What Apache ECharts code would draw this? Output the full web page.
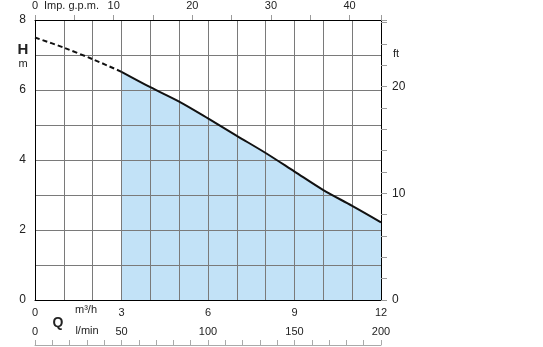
<!DOCTYPE html>
<html><head><meta charset="utf-8">
<script src="https://cdn.jsdelivr.net/npm/echarts@6/dist/echarts.min.js"></script>
<style>html,body{margin:0;padding:0;background:#fff}#c{width:543px;height:347px}</style>
</head><body><div id="c"></div>
<script>
// ---- data ----
const qDashed = [0, 1, 2, 3];
const hDashed = [7.5, 7.21, 6.88, 6.52];
const qSolid = [3, 4, 5, 6, 7, 8, 9, 10, 11, 12];
const hSolid = [6.52, 6.08, 5.67, 5.19, 4.69, 4.2, 3.67, 3.14, 2.69, 2.22];
const m3hLabels = [0, 3, 6, 9, 12];
const lminLabels = [0, 50, 100, 150, 200];
const gpmLabels = [0, 10, 20, 30, 40];
const hLabels = [0, 2, 4, 6, 8];
const ftLabels = [0, 10, 20];
const Q_MAX = 12, H_MAX = 8;
const GPM_PER_M3H = 3.66614, FT_PER_M = 3.28084, LMIN_PER_M3H = 1000 / 60;

const font = 'Liberation Sans, Arial, Helvetica, sans-serif';
const txt = '#222';
const gridCol = '#7a7a7a';
const tickCol = '#9a9a9a';

const dashedData = qDashed.map((q, i) => [q, hDashed[i]]);
const solidData = qSolid.map((q, i) => [q, hSolid[i]]);

const near = (v, list) => list.some(x => Math.abs(x - v) < 1e-6);

const chart = echarts.init(document.getElementById('c'), null, {renderer: 'canvas'});
chart.setOption({
  animation: false,
  backgroundColor: '#fff',
  grid: {left: 35, right: 162, top: 20, bottom: 47, containLabel: false},
  xAxis: [
    {
      type: 'value', position: 'bottom', min: 0, max: Q_MAX, interval: 1,
      axisLine: {show: true, onZero: false, lineStyle: {color: '#000', width: 1}},
      axisTick: {show: false},
      splitLine: {show: true, lineStyle: {color: gridCol, width: 1}},
      axisLabel: {
        margin: 7, fontSize: 11, color: txt, fontFamily: font,
        formatter: v => near(v, m3hLabels) ? String(v) : ''
      }
    },
    {
      type: 'value', position: 'bottom', offset: 45, min: 0, max: Q_MAX * LMIN_PER_M3H, interval: 10,
      axisLine: {show: true, onZero: false, lineStyle: {color: '#aaa', width: 1}},
      axisTick: {show: true, inside: true, length: 5, lineStyle: {color: '#aaa'}},
      splitLine: {show: false},
      axisLabel: {
        inside: true, margin: 8, fontSize: 11, color: txt, fontFamily: font,
        formatter: v => near(v, lminLabels) ? String(Math.round(v)) : ''
      }
    },
    {
      type: 'value', position: 'top', min: 0, max: Q_MAX * GPM_PER_M3H, interval: 5,
      axisLine: {show: true, onZero: false, lineStyle: {color: '#000', width: 1}},
      axisTick: {show: true, length: 5, lineStyle: {color: tickCol}},
      splitLine: {show: false},
      axisLabel: {
        margin: 9, fontSize: 11, color: txt, fontFamily: font,
        formatter: v => near(v, gpmLabels) ? String(v) : ''
      }
    }
  ],
  yAxis: [
    {
      type: 'value', position: 'left', min: 0, max: H_MAX, interval: 1,
      axisLine: {show: true, onZero: false, lineStyle: {color: '#000', width: 1}},
      axisTick: {show: false},
      splitLine: {show: true, lineStyle: {color: gridCol, width: 1}},
      axisLabel: {
        margin: 9, fontSize: 12, color: txt, fontFamily: font,
        formatter: v => near(v, hLabels) ? String(v) : ''
      }
    },
    {
      type: 'value', position: 'right', min: 0, max: H_MAX * FT_PER_M, interval: 2,
      axisLine: {show: true, onZero: false, lineStyle: {color: '#000', width: 1}},
      axisTick: {show: true, length: 6, lineStyle: {color: tickCol}},
      splitLine: {show: false},
      axisLabel: {
        margin: 11, fontSize: 12, color: txt, fontFamily: font,
        formatter: v => near(v, ftLabels) ? String(v) : ''
      }
    }
  ],
  series: [
    {
      type: 'line', xAxisIndex: 0, yAxisIndex: 0, data: solidData, z: -1, smooth: 0.3,
      symbol: 'none', lineStyle: {width: 0, opacity: 0},
      areaStyle: {color: '#c2e2f7', opacity: 1}, silent: true
    },
    {
      type: 'line', xAxisIndex: 0, yAxisIndex: 0, data: solidData, z: 5, smooth: 0.3,
      symbol: 'none', lineStyle: {color: '#111', width: 2}
    },
    {
      type: 'line', xAxisIndex: 0, yAxisIndex: 0, data: dashedData, z: 5, smooth: 0.3,
      symbol: 'none', lineStyle: {color: '#111', width: 2, type: [5, 3]}
    }
  ],
  graphic: [
    {type: 'text', left: 44, top: 0, style: {text: 'Imp. g.p.m.', font: '11px ' + font, fill: txt}},
    {type: 'text', x: 23, y: 50, style: {text: 'H', font: 'bold 15px ' + font, fill: txt, align: 'center', verticalAlign: 'middle'}},
    {type: 'text', x: 23, y: 64, style: {text: 'm', font: '11px ' + font, fill: txt, align: 'center', verticalAlign: 'middle'}},
    {type: 'text', x: 86, y: 310, style: {text: 'm³/h', font: '11px ' + font, fill: txt, align: 'center', verticalAlign: 'middle'}},
    {type: 'text', x: 87, y: 331, style: {text: 'l/min', font: '11px ' + font, fill: txt, align: 'center', verticalAlign: 'middle'}},
    {type: 'text', x: 58, y: 323, style: {text: 'Q', font: 'bold 14px ' + font, fill: txt, align: 'center', verticalAlign: 'middle'}},
    {type: 'text', x: 393, y: 54, style: {text: 'ft', font: '11px ' + font, fill: txt, align: 'left', verticalAlign: 'middle'}}
  ]
});
</script></body></html>
